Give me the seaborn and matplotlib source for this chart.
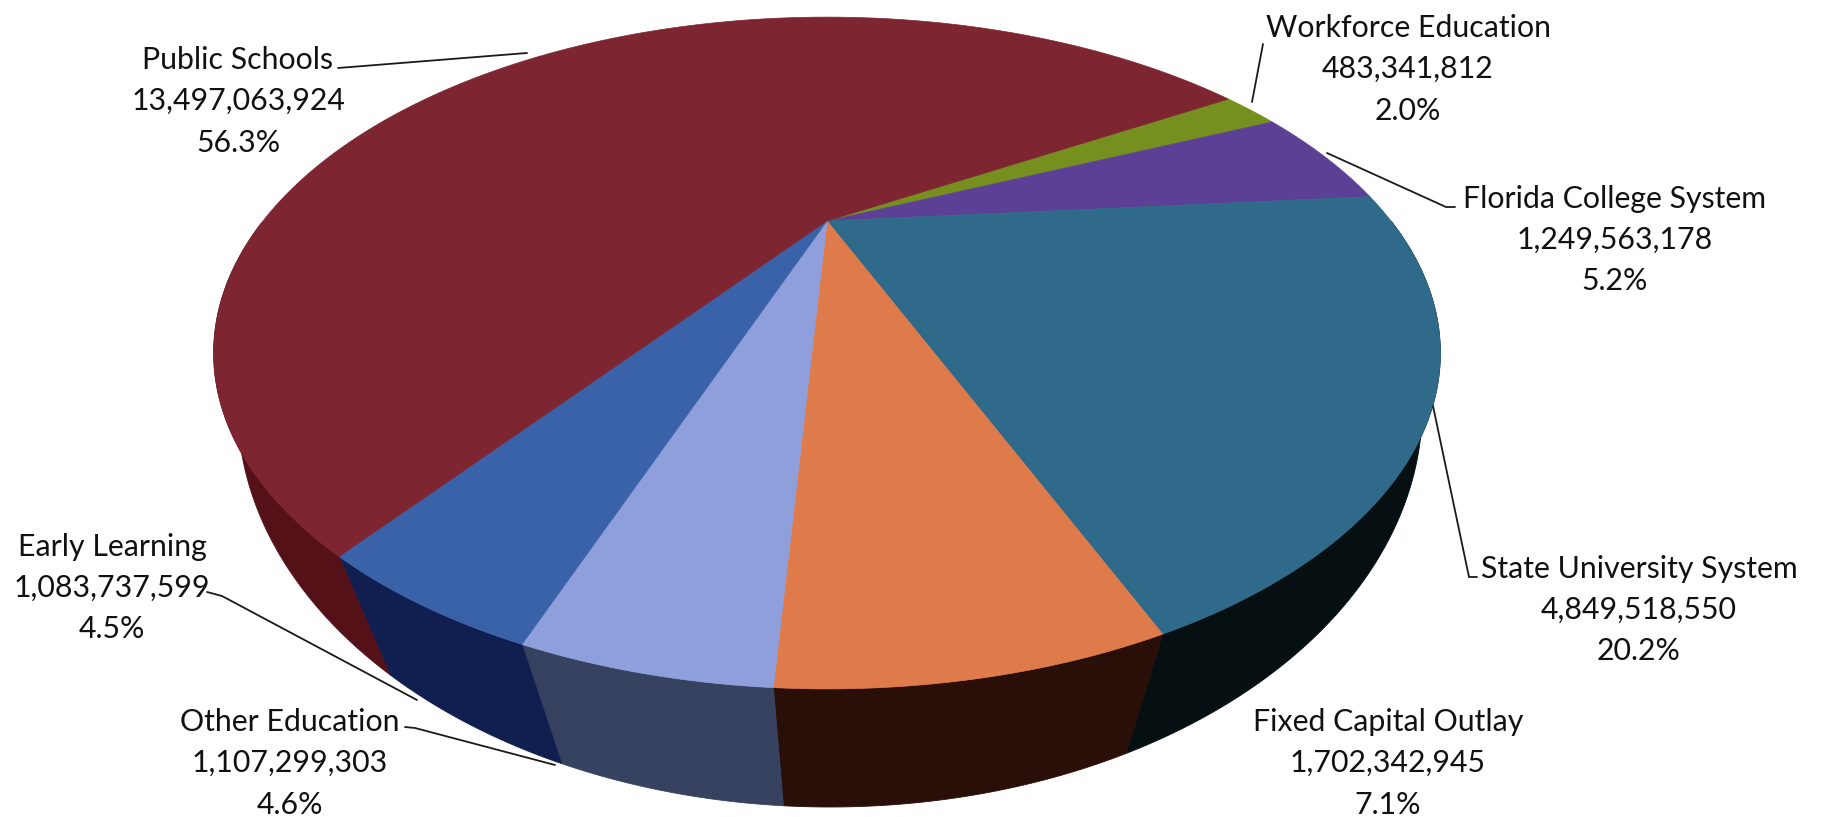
import numpy as np
import matplotlib
matplotlib.use("Agg")
import matplotlib.pyplot as plt
import seaborn as sns

# ---- data (clockwise from the top right) ----
categories = ["Workforce Education", "Florida College System", "State University System",
              "Fixed Capital Outlay", "Other Education", "Early Learning", "Public Schools"]
values = [483341812, 1249563178, 4849518550, 1702342945, 1107299303, 1083737599, 13497063924]
percent_labels = ["2.0%", "5.2%", "20.2%", "7.1%", "4.6%", "4.5%", "56.3%"]
top_colors = ["#76901F", "#5C4096", "#2F6A8A", "#DF7B4B", "#8F9FDC", "#3A62A8", "#7D2531"]
wall_colors = ["#3A4710", "#2C1F4A", "#060F12", "#2A0F08", "#364260", "#101F50", "#541118"]

# ---- layout (pixels of the 1821x817 canvas) ----
label_centres = [(1408, 69), (1615, 240), (1639, 610), (1388, 763), (290, 763), (112, 588), (238, 101)]
leaders = [
    [(1252, 102), (1263, 44)],
    [(1327, 153), (1446, 207), (1455, 207)],
    [(1433, 406), (1469, 577), (1477, 577)],
    None,
    [(405, 727), (415, 728), (555, 765)],
    [(207, 592), (222, 596), (417, 700)],
    [(338, 68), (527, 53)],
]

# perspective of the pie's top face
CX, CY = 827, 221
AX, DY, TILT = 564, 284, -0.393
START = np.deg2rad(-31.1)
# perspective of its bottom face
BX, BY = 830, 287
BAX, BDY, BTILT = 565, 364, -0.3


def disc(angle):
    return np.cos(angle + START), np.sin(angle + START)


def top_face(angle):
    u, v = disc(angle)
    w = 1 + TILT * v
    return CX + AX * u / w, CY + DY * v / w


def bottom_face(angle):
    u, v = disc(angle)
    w = 1 + BTILT * v
    return BX + BAX * u / w, BY + BDY * v / w


sns.set_theme(style="white")
plt.rcParams["font.family"] = ["Lato", "DejaVu Sans"]

fig = plt.figure(figsize=(18.21, 8.17), dpi=100)
ax = fig.add_axes([0, 0, 1, 1])
ax.set_xlim(0, 1821)
ax.set_ylim(817, 0)
ax.axis("off")

vals = np.asarray(values, dtype=float)
edges = np.concatenate([[0], np.cumsum(vals) / vals.sum()]) * 2 * np.pi
tops = sns.color_palette(top_colors)
walls = sns.color_palette(wall_colors)

# side walls: only the half of the rim that faces the viewer
for i in range(len(vals)):
    t = np.linspace(edges[i], edges[i + 1], 400)
    t = t[disc(t)[1] >= 0]
    if t.size < 2:
        continue
    xt, yt = top_face(t)
    xb, yb = bottom_face(t)
    ax.fill(np.r_[xt, xb[::-1]], np.r_[yt, yb[::-1]], color=walls[i], lw=0.6)

# top face
for i in range(len(vals)):
    t = np.linspace(edges[i], edges[i + 1], 300)
    xt, yt = top_face(t)
    ax.fill(np.r_[CX, xt], np.r_[CY, yt], color=tops[i], lw=0.5)

# leader lines
for pts in leaders:
    if pts:
        ax.plot(*zip(*pts), color="#1a1a1a", lw=1.3, solid_capstyle="round")

# labels
for name, value, pct, (x, y) in zip(categories, values, percent_labels, label_centres):
    ax.text(x, y - 41, name, ha="center", va="center", fontsize=21.8, color="#111111")
    ax.text(x, y, f"{value:,}", ha="center", va="center", fontsize=21.8, color="#111111")
    ax.text(x, y + 39, pct, ha="center", va="center_baseline", fontsize=21.8, color="#111111")

fig.savefig("out.png", dpi=100, facecolor="white")
